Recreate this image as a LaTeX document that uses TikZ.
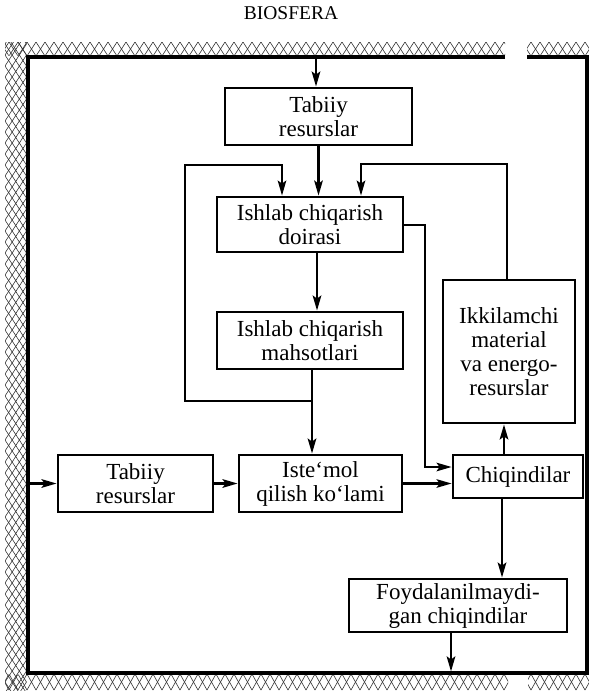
\documentclass[tikz,border=0pt]{standalone}
\usepackage{fontspec}
\setmainfont{Liberation Serif}
\usetikzlibrary{arrows.meta}
\begin{document}
\begin{tikzpicture}[x=1pt,y=-1pt,
  box/.style={draw,line width=2.8pt,inner sep=0pt,align=center,font=\fontsize{23}{24}\selectfont},
  conn/.style={line width=2.6pt,-{Stealth[length=15pt,width=8.5pt,inset=3pt]}},
  loopline/.style={line width=2.2pt,-{Stealth[length=15pt,width=8.5pt,inset=3pt]}},
  frameline/.style={line width=3.5pt,line join=miter},
  hatchline/.style={line width=0.6pt,black!80}]
\useasboundingbox (0,0) rectangle (589,694);

% hatched biosphere band: top
\begin{scope}
\clip (5,42) rectangle (505,55.5) (527,42) rectangle (589,55.5);
\foreach \x in {-18,-9,...,594} {
  \draw[hatchline] (\x,42) -- (\x+9,56);
  \draw[hatchline] (\x,56) -- (\x+9,42);
}
\end{scope}
% bottom
\begin{scope}
\clip (5,674.5) rectangle (508,690) (528,674.5) rectangle (589,690);
\foreach \x in {-18,-9,...,594} {
  \draw[hatchline] (\x,674) -- (\x+9,690);
  \draw[hatchline] (\x,690) -- (\x+9,674);
}
\end{scope}
% left
\begin{scope}
\clip (5,42) rectangle (26.5,690);
\foreach \y in {0,11,...,700} {
  \draw[hatchline] (5,\y) -- (26.5,\y+33);
  \draw[hatchline] (5,\y+33) -- (26.5,\y);
}
\end{scope}

% frame
\coordinate (ga) at (505,57);
\coordinate (gb) at (527,57);
\coordinate (ftl) at (28,57);
\coordinate (fbl) at (28,673);
\coordinate (fbr) at (587,673);
\coordinate (ftr) at (587,57);
\draw[frameline] (ga) -- (ftl) -- (fbl) -- (fbr) -- (ftr) -- (gb);

\node[font=\fontsize{19.5}{20}\selectfont] (title) at (291,13) {BIOSFERA};

% boxes
\node[box,minimum width=187pt,minimum height=57pt] (tr1) at (318.5,116.5) {Tabiiy\\resurslar};
\node[box,minimum width=186pt,minimum height=55pt] (doir) at (310,224.5) {Ishlab chiqarish\\doirasi};
\node[box,minimum width=186pt,minimum height=57pt] (mahs) at (310,340.5) {Ishlab chiqarish\\mahsotlari};
\node[box,minimum width=163pt,minimum height=57pt] (iste) at (320.5,483.5) {Iste`mol\\qilish ko`lami};
\node[box,minimum width=155pt,minimum height=57pt] (tr2) at (135.5,483.5) {Tabiiy\\resurslar};
\node[box,minimum width=130pt,minimum height=43pt] (chiq) at (518,476.5) {Chiqindilar};
\node[box,minimum width=132pt,minimum height=143pt] (ikki) at (509,351.5) {Ikkilamchi\\material\\va energo-\\resurslar};
\node[box,minimum width=218pt,minimum height=53pt] (foyd) at (458,605.5) {Foydalanilmaydi-\\gan chiqindilar};

% connectors
\coordinate (ftop) at (316,57);
\draw[conn] (ftop) -- (ftop |- tr1.north);
\draw[conn] (tr1.south) -- (tr1.south |- doir.north);
\draw[conn] ([xshift=7pt]doir.south) -- ([xshift=7pt]mahs.north);
\coordinate (j1) at (312,401);
\draw[conn] (j1 |- mahs.south) -- (j1 |- iste.north);
\coordinate (L0) at (185,401);
\coordinate (L1) at (185,165);
\coordinate (L2) at (282,165);
\draw[loopline] (j1) -- (L0) -- (L1) -- (L2) -- (L2 |- doir.north);
\coordinate (R0) at (507,164);
\coordinate (R1) at (361,164);
\draw[loopline] (R0 |- ikki.north) -- (R0) -- (R1) -- (R1 |- doir.north);
\coordinate (R2) at (425,225);
\coordinate (R3) at (425,467);
\draw[loopline] (doir.east |- R2) -- (R2) -- (R3) -- (R3 -| chiq.west);
\draw[loopline] (iste.east) -- (iste.east -| chiq.west);
\draw[conn] ([xshift=-14pt]chiq.north) -- ([xshift=-14pt]chiq.north |- ikki.south);
\draw[conn] ([xshift=-16pt]chiq.south) -- ([xshift=-16pt]chiq.south |- foyd.north);
\coordinate (fbot) at (451,671.5);
\draw[conn] (fbot |- foyd.south) -- (fbot);
\coordinate (fleft) at (29.5,483.5);
\draw[conn] (fleft) -- (tr2.west);
\draw[conn] (tr2.east) -- (iste.west);
\end{tikzpicture}
\end{document}
